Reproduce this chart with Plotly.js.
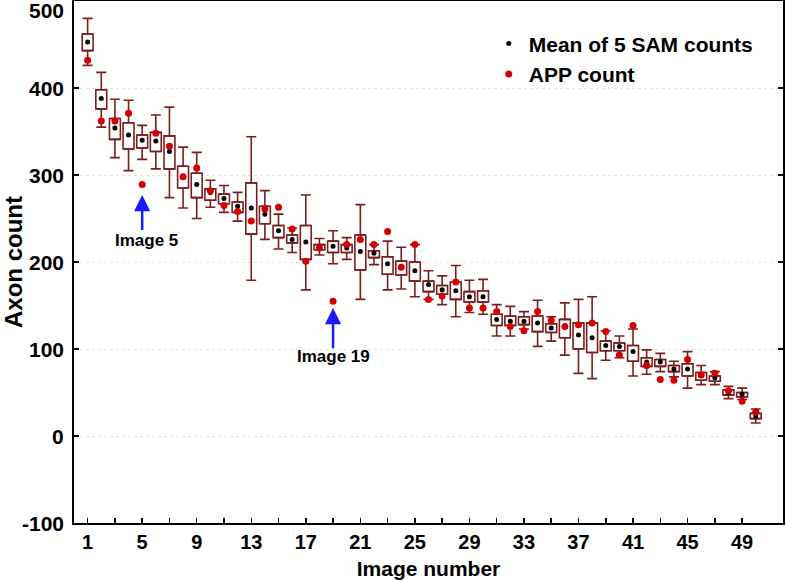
<!DOCTYPE html>
<html>
<head>
<meta charset="utf-8">
<script src="https://cdn.plot.ly/plotly-3.0.1.min.js"></script>
<style>
  html, body { margin: 0; padding: 0; background: #fff; }
  #chart { width: 786px; height: 580px; }
</style>
</head>
<body>
<div id="chart"></div>
<script>
// Image numbers 1..50
const images = [1,2,3,4,5,6,7,8,9,10,11,12,13,14,15,16,17,18,19,20,21,22,23,24,25,26,27,28,29,30,31,32,33,34,35,36,37,38,39,40,41,42,43,44,45,46,47,48,49,50];
// Upper whisker (max)
const whiskerHigh = [480,418,387,386,357,369,378,332,326,294,288,280,344,282,255,239,277,227,236,228,266,220,224,217,220,190,184,196,179,180,151,149,143,156,137,153,157,160,121,115,123,99,95,86,97,81,74,57,55,31];
// Box top (Q3)
const boxHigh = [462,398,365,360,346,349,345,310,302,284,278,269,291,264,242,231,242,220,224,220,231,213,206,201,200,178,173,177,166,167,140,138,137,138,129,134,130,130,109,107,104,90,88,81,83,73,69,53,50,26];
// Box bottom (Q1)
const boxLow = [443,376,341,330,331,327,307,285,274,271,267,257,232,244,228,222,203,214,211,211,191,205,186,185,178,166,163,157,154,154,127,127,128,120,119,113,100,96,98,98,86,80,80,74,69,64,63,47,45,20];
// Lower whisker (min)
const whiskerLow = [426,355,320,305,318,307,274,262,250,263,257,247,179,226,215,211,168,208,198,203,157,197,168,169,160,157,151,137,142,140,115,115,123,103,109,93,72,66,87,90,69,71,74,68,55,59,59,43,42,15];
// Mean of 5 SAM counts
const samMean = [453,388,354,346,340,339,327,297,289,280,273,264,262,255,236,226,223,217,218,216,212,210,198,194,190,174,168,167,160,160,134,132,132,130,124,126,116,113,104,103,97,85,85,77,77,70,67,50,48,23];
// APP count
const appCount = [432,362,362,371,289,348,333,298,308,282,265,258,247,261,263,238,201,216,155,220,226,220,235,194,220,157,161,177,147,147,143,126,121,143,133,126,128,130,120,93,127,81,65,64,88,70,72,52,40,28];

const xTickVals = [1,5,9,13,17,21,25,29,33,37,41,45,49];
const yTickVals = [-100,0,100,200,300,400,500];
const yTickText = ['-100','0','100','200','300','400','500'];

const seriesNames = ['Mean of 5 SAM counts', 'APP count'];
const calloutImages = [5, 19];
const calloutTip = [277, 147];
const calloutTail = [235, 99];
const calloutLabelY = [225, 91];
const calloutText = ['Image 5', 'Image 19'];

const boxColor = '#7a1f1f';
const FONT = '"Liberation Sans", Arial, sans-serif';

const upperErr = whiskerHigh.map((v, i) => v - boxHigh[i]);
const lowerErr = boxLow.map((v, i) => v - whiskerLow[i]);

const traces = [
  { type: 'scatter', mode: 'markers', x: images, y: boxHigh,
    marker: { size: 1, color: 'rgba(0,0,0,0)' }, showlegend: false, hoverinfo: 'skip',
    error_y: { type: 'data', symmetric: false, array: upperErr, arrayminus: images.map(() => 0),
      color: boxColor, thickness: 1.6, width: 5 } },
  { type: 'scatter', mode: 'markers', x: images, y: boxLow,
    marker: { size: 1, color: 'rgba(0,0,0,0)' }, showlegend: false, hoverinfo: 'skip',
    error_y: { type: 'data', symmetric: false, array: images.map(() => 0), arrayminus: lowerErr,
      color: boxColor, thickness: 1.6, width: 5 } },
  { type: 'bar', x: images, y: boxHigh.map((v, i) => v - boxLow[i]), base: boxLow,
    width: 0.8, marker: { color: '#ffffff', line: { color: boxColor, width: 1.6 } },
    showlegend: false, hoverinfo: 'skip' },
  { type: 'scatter', mode: 'markers', name: seriesNames[0], x: images, y: samMean,
    marker: { size: 5, color: '#000000' } },
  { type: 'scatter', mode: 'markers', name: seriesNames[1], x: images, y: appCount,
    marker: { size: 7, color: '#d40000' } }
];

const annotations = [];
yTickVals.forEach((v, i) => {
  annotations.push({ xref: 'paper', yref: 'y', x: 0, y: v, xshift: -8,
    yshift: v === 500 ? -9 : 0,
    xanchor: 'right', yanchor: 'middle', showarrow: false, text: yTickText[i],
    font: { family: FONT, size: 21, color: '#000', weight: 'bold' } });
});
calloutImages.forEach((xi, i) => {
  annotations.push({ xref: 'x', yref: 'y', axref: 'x', ayref: 'y', x: xi, y: calloutTip[i],
    ax: xi, ay: calloutTail[i], text: '', showarrow: true, arrowhead: 2, arrowsize: 1.3,
    arrowwidth: 2.5, arrowcolor: '#1a1aff' });
  annotations.push({ xref: 'x', yref: 'y', x: xi + (i === 0 ? 0.3 : 0), y: calloutLabelY[i], showarrow: false,
    text: calloutText[i], xanchor: 'center', yanchor: 'middle',
    font: { family: FONT, size: 17, color: '#000', weight: 'bold' } });
});

const layout = {
  width: 786, height: 580,
  margin: { l: 74, r: 3, t: 1, b: 57 },
  paper_bgcolor: '#ffffff', plot_bgcolor: '#ffffff',
  barmode: 'overlay',
  font: { family: FONT, color: '#000' },
  xaxis: {
    range: [0, 52], tickvals: xTickVals, ticks: 'inside', ticklen: 5, tickwidth: 1.5, tickcolor: '#000',
    minor: { tickvals: images.filter(v => v % 2 === 1), ticks: 'inside', ticklen: 5, tickwidth: 1.5, tickcolor: '#000' },
    showline: true, linecolor: '#000', linewidth: 2, mirror: true, showgrid: false, zeroline: false,
    tickfont: { family: FONT, size: 20, color: '#000', weight: 'bold' },
    title: { text: 'Image number', font: { family: FONT, size: 21, color: '#000', weight: 'bold' }, standoff: 9 }
  },
  xaxis2: {
    overlaying: 'x', side: 'top', range: [0, 52], tickvals: images, ticks: 'inside', ticklen: 5,
    tickwidth: 1.5, tickcolor: '#000', showticklabels: false, showgrid: false, zeroline: false, showline: false
  },
  yaxis: {
    range: [-100, 500], tickvals: yTickVals, showticklabels: false, ticks: 'inside', ticklen: 5, tickwidth: 1.5,
    tickcolor: '#000', showline: true, linecolor: '#000', linewidth: 2, mirror: 'ticks',
    showgrid: true, gridcolor: '#e2e2e2', griddash: 'dot', gridwidth: 1, zeroline: false,
    title: { text: 'Axon count', font: { family: FONT, size: 24, color: '#000', weight: 'bold' }, standoff: 50 }
  },
  legend: {
    x: 0.585, y: 0.957, xanchor: 'left', yanchor: 'top', bgcolor: 'rgba(0,0,0,0)',
    font: { family: FONT, size: 21, color: '#000', weight: 'bold' }, itemwidth: 30, tracegroupgap: 0
  },
  showlegend: true,
  annotations: annotations
};

Plotly.newPlot('chart', traces, layout, { displayModeBar: false, staticPlot: true });
</script>
</body>
</html>
